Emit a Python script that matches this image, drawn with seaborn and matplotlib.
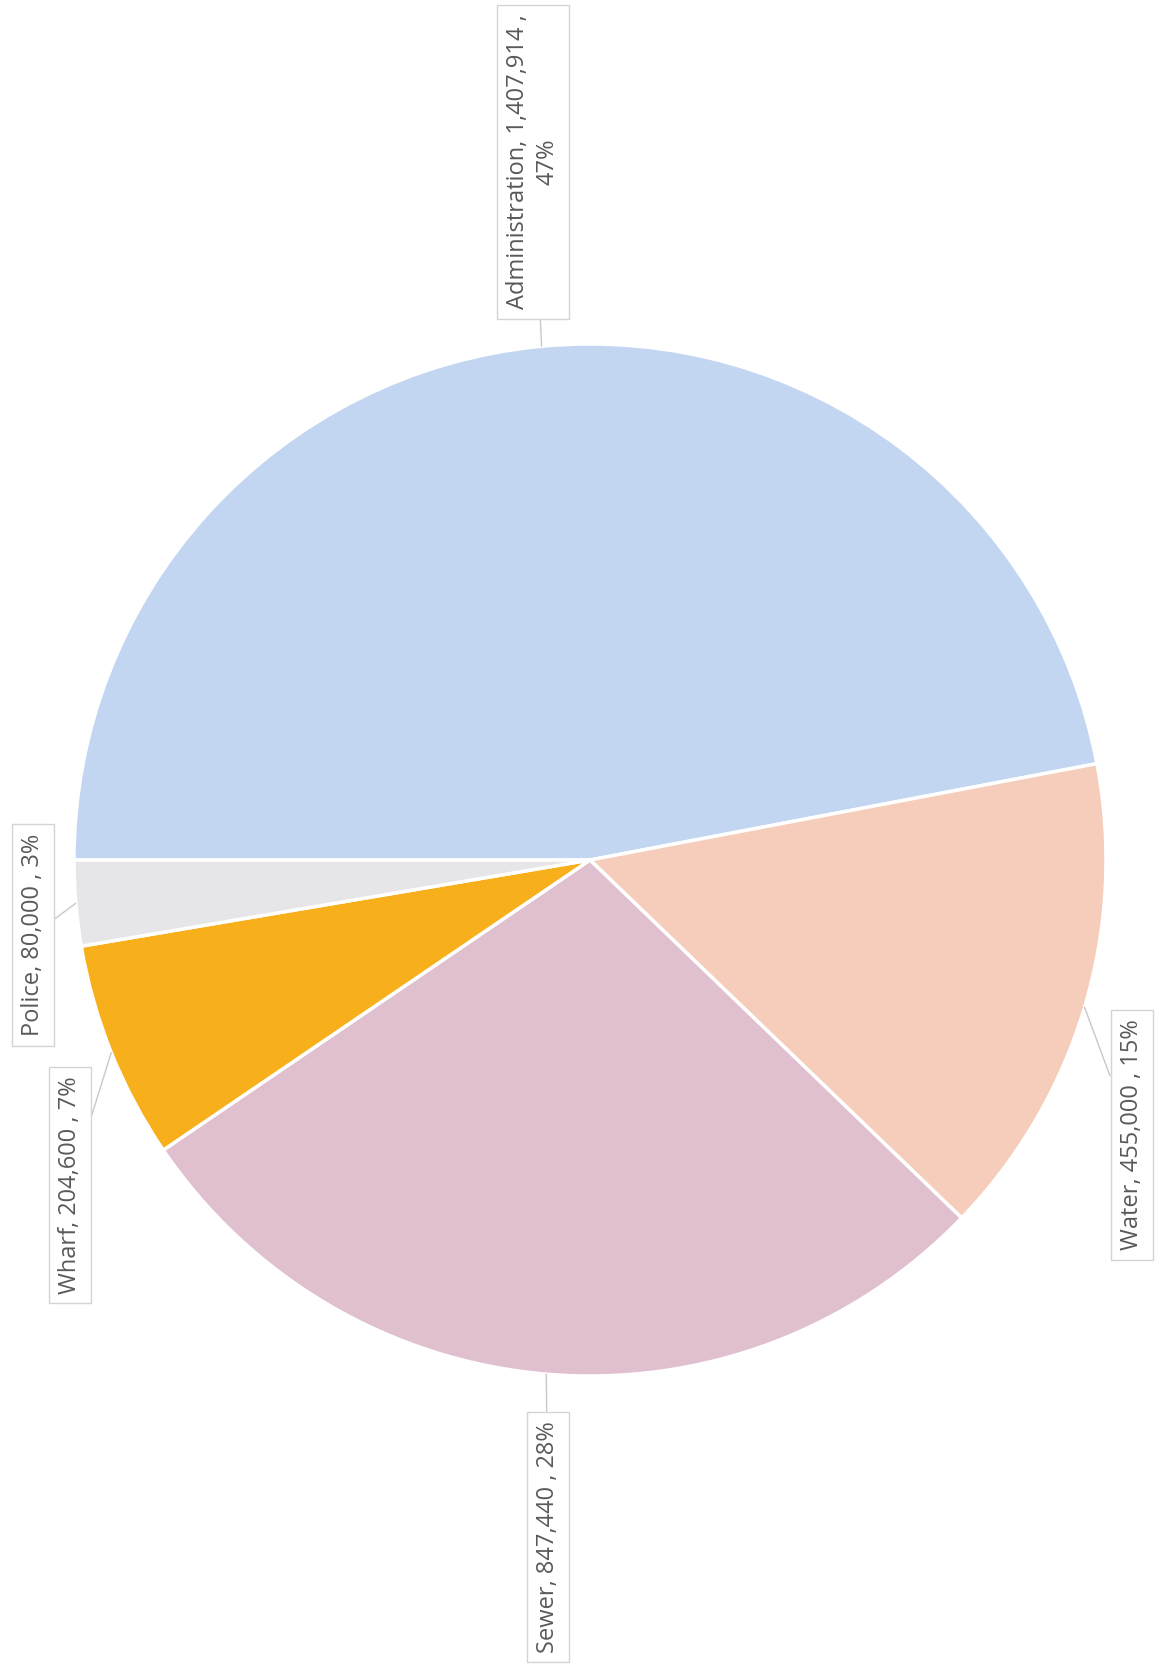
import numpy as np
import matplotlib
matplotlib.use("Agg")
import matplotlib.pyplot as plt
import seaborn as sns

categories = ["Administration", "Water", "Sewer", "Wharf", "Police"]
values = [1407914, 455000, 847440, 204600, 80000]
percent_labels = ["47%", "15%", "28%", "7%", "3%"]
colors = ["#C2D5F1", "#F5CDBA", "#E0C0CE", "#F8AF1C", "#E6E6E8"]

sns.set_theme(style="white")
plt.rcParams['font.family'] = ['Open Sans', 'DejaVu Sans']

W, H = 1161, 1675
fig = plt.figure(figsize=(W / 100, H / 100), dpi=100)
fig.patch.set_facecolor("white")
cx, cy, r = 590, 860, 516
ax = fig.add_axes([(cx - r) / W, (H - cy - r) / H, 2 * r / W, 2 * r / H])
ax.set_facecolor("white")

wedges, _ = ax.pie(values, colors=colors, startangle=180, counterclock=False,
                   radius=1.0, wedgeprops=dict(edgecolor="white", linewidth=2.5))
ax.set_xlim(-1, 1)
ax.set_ylim(-1, 1)
ax.set_aspect("equal")
ax.axis("off")

def px2data(px, py):
    return (px - cx) / r, (cy - py) / r

# label box centers (pixel positions of the callouts)
label_pos = {
    "Administration": (533, 162),
    "Water": (1132, 1135),
    "Sewer": (548, 1537),
    "Wharf": (70, 1185),
    "Police": (33, 935),
}

for w, cat, v, p in zip(wedges, categories, values, percent_labels):
    mid = np.deg2rad((w.theta1 + w.theta2) / 2)
    xy = (np.cos(mid), np.sin(mid))
    if cat == "Administration":
        txt = f"{cat}, {v:,} ,\n{p}"
    else:
        txt = f"{cat}, {v:,} , {p}"
    ax.annotate(txt, xy=xy, xytext=px2data(*label_pos[cat]), textcoords="data",
                rotation=90, ha="center", va="center", fontsize=17, color="#595959",
                multialignment="center", annotation_clip=False, linespacing=1.3,
                bbox=dict(boxstyle="square,pad=0.4", fc="white", ec="#D4D4D4", lw=1),
                arrowprops=dict(arrowstyle="-", color="#C8C8C8", lw=1,
                                shrinkA=0, shrinkB=0))

fig.savefig("out.png", dpi=100, facecolor="white")
